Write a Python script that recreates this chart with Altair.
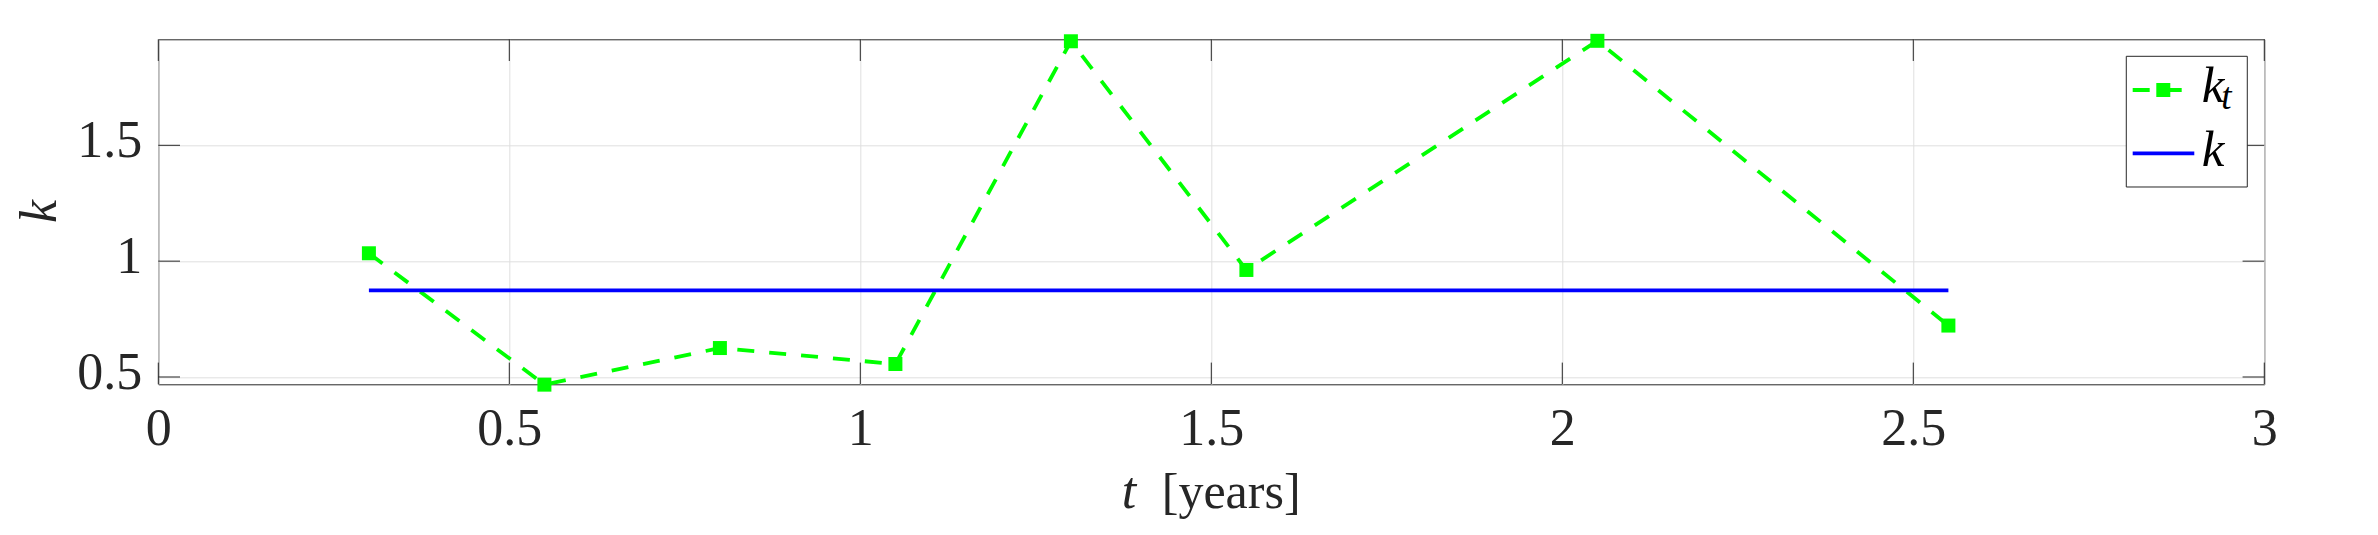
import altair as alt
import pandas as pd

# ---- data ----
t_years = [0.3, 0.55, 0.8, 1.05, 1.3, 1.55, 2.05, 2.55]
k_t = [1.034, 0.467, 0.625, 0.556, 1.949, 0.962, 1.951, 0.722]
k_span = [0.3, 2.55]
k_const = [0.874, 0.874]
x_ticks = [0, 0.5, 1, 1.5, 2, 2.5, 3]
y_ticks = [0.5, 1, 1.5]
x_domain = [0, 3]
y_domain = [0.4685, 1.9575]

# ---- style ----
W, H = 2106, 345
TICK = 21.7
FONT = "Liberation Serif"
AX = "#262626"
GRID = "#dfdfdf"
GREEN = "#00ff00"
BLUE = "#0000ff"
LW = 3.8
DASH = [17, 15]

df_kt = pd.DataFrame({"t": t_years, "k": k_t})
df_k = pd.DataFrame({"t": k_span, "k": k_const})
df_xt = pd.DataFrame({"t": x_ticks})
df_yt = pd.DataFrame({"k": y_ticks})
one = pd.DataFrame({"s": ["a"]})

xs = alt.Scale(domain=x_domain, nice=False, zero=False)
ys = alt.Scale(domain=y_domain, nice=False, zero=False)

x_axis = alt.Axis(
    values=x_ticks, format="~g", title=None, grid=True, gridColor=GRID, gridWidth=1,
    ticks=False, tickSize=0, domain=False, labelFont=FONT, labelFontSize=52,
    labelColor=AX, labelBaseline="alphabetic", labelPadding=60.7, labelAngle=0,
    labelFlush=False,
)
y_axis = alt.Axis(
    values=y_ticks, format="~g", title="k", titleFont=FONT, titleFontSize=52,
    titleFontStyle="italic", titleFontWeight="normal", titleColor=AX, titleAngle=270,
    titleAlign="center", titleBaseline="alphabetic", titleX=-103, titleY=171.7,
    grid=True, gridColor=GRID, gridWidth=1, ticks=False, tickSize=0, domain=False,
    labelFont=FONT, labelFontSize=52, labelColor=AX, labelBaseline="alphabetic",
    labelAlign="right", labelPadding=16.6, labelOffset=11.5, labelFlush=False,
)

X = alt.X("t:Q", scale=xs, axis=x_axis)
Y = alt.Y("k:Q", scale=ys, axis=y_axis)

kt_line = alt.Chart(df_kt).mark_line(color=GREEN, strokeWidth=LW, strokeDash=DASH).encode(x=X, y=Y)
kt_pts = alt.Chart(df_kt).mark_square(size=196, color=GREEN, opacity=1).encode(x=X, y=Y)
k_line = alt.Chart(df_k).mark_line(color=BLUE, strokeWidth=LW).encode(x=X, y=Y)

# inward ticks on all four sides
xt_bot = alt.Chart(df_xt).mark_rule(color=AX, strokeWidth=1).encode(
    x=X, y=alt.value(H - TICK), y2=alt.value(H))
xt_top = alt.Chart(df_xt).mark_rule(color=AX, strokeWidth=1).encode(
    x=X, y=alt.value(0), y2=alt.value(TICK))
yt_left = alt.Chart(df_yt).mark_rule(color=AX, strokeWidth=1).encode(
    y=Y, x=alt.value(0), x2=alt.value(TICK))
yt_right = alt.Chart(df_yt).mark_rule(color=AX, strokeWidth=1).encode(
    y=Y, x=alt.value(W - TICK), x2=alt.value(W))

# x-axis title: italic t + [years]
xt_t = alt.Chart(one).mark_text(font=FONT, fontSize=52, fontStyle="italic", align="left",
                                baseline="alphabetic", color=AX).encode(
    x=alt.value(963.4), y=alt.value(469), text=alt.value("t"))
xt_years = alt.Chart(one).mark_text(font=FONT, fontSize=50, align="left",
                                    baseline="alphabetic", color=AX).encode(
    x=alt.value(1003.5), y=alt.value(469), text=alt.value("[years]"))

# legend
leg_box = alt.Chart(one).mark_rect(fill="white", stroke=AX, strokeWidth=1).encode(
    x=alt.value(1968), x2=alt.value(2089), y=alt.value(17), y2=alt.value(147.7))
leg_l1 = alt.Chart(one).mark_rule(color=GREEN, strokeWidth=LW, strokeDash=DASH).encode(
    x=alt.value(1974.4), x2=alt.value(2036), y=alt.value(50.7))
leg_p1 = alt.Chart(one).mark_square(size=196, color=GREEN, opacity=1).encode(
    x=alt.value(2005), y=alt.value(50.7))
leg_l2 = alt.Chart(one).mark_rule(color=BLUE, strokeWidth=LW).encode(
    x=alt.value(1974.4), x2=alt.value(2036), y=alt.value(114))
leg_k1 = alt.Chart(one).mark_text(font=FONT, fontSize=51, fontStyle="italic", align="left",
                                  baseline="alphabetic", color="black").encode(
    x=alt.value(2043.4), y=alt.value(62.4), text=alt.value("k"))
leg_sub = alt.Chart(one).mark_text(font=FONT, fontSize=37, fontStyle="italic", align="left",
                                   baseline="alphabetic", color="black").encode(
    x=alt.value(2063), y=alt.value(70), text=alt.value("t"))
leg_k2 = alt.Chart(one).mark_text(font=FONT, fontSize=51, fontStyle="italic", align="left",
                                  baseline="alphabetic", color="black").encode(
    x=alt.value(2043.4), y=alt.value(126.4), text=alt.value("k"))

chart = alt.layer(
    kt_line, kt_pts, k_line,
    xt_bot, xt_top, yt_left, yt_right,
    xt_t, xt_years,
    leg_box, leg_l1, leg_p1, leg_l2, leg_k1, leg_sub, leg_k2,
).properties(
    width=W, height=H,
    autosize=alt.AutoSizeParams(type="none"),
    padding={"left": 150.3, "top": 31.3, "right": 100, "bottom": 140},
    background="white",
).configure_view(stroke=AX, strokeWidth=1)

chart.save("out.html", embed_options={"renderer": "svg", "actions": False})
